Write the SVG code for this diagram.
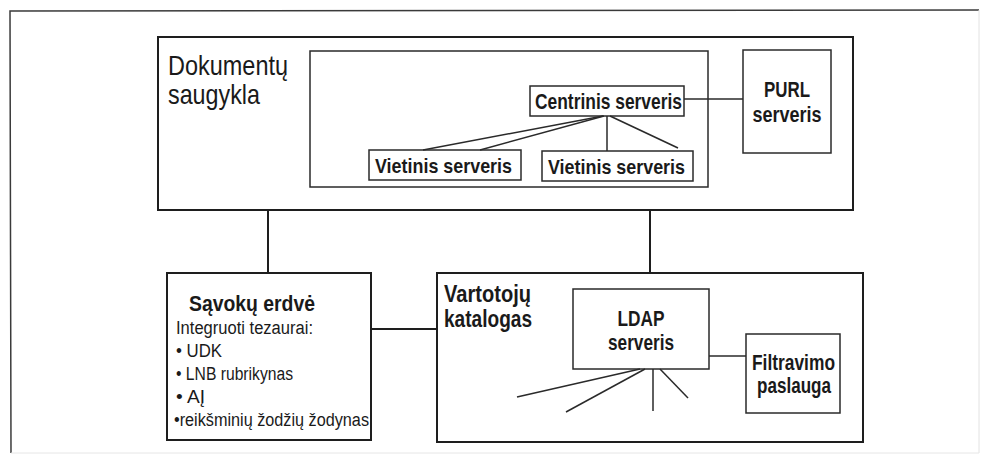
<svg xmlns="http://www.w3.org/2000/svg" width="982" height="455" viewBox="0 0 982 455">
<style>
.box{fill:none;stroke:#1e1e1e;stroke-width:2}
.thin{fill:none;stroke:#2a2a2a;stroke-width:1.5}
.conn{fill:none;stroke:#1e1e1e;stroke-width:2}
.t{font-family:"Liberation Sans",Arial,sans-serif;fill:#1a1a1a}
.b{font-weight:bold}
.big{font-size:28px}
.mid{font-size:22px}
.sm{font-size:18px}
</style>
<rect width="982" height="455" fill="#ffffff"/>
<g id="frame">
<path d="M979 10 L10 11 L11 453" fill="none" stroke="#3a3a3a" stroke-width="1.5"/>
<path d="M979 10 L979 453" fill="none" stroke="#e2e2e2" stroke-width="1"/>
<path d="M11 453 L979 453" fill="none" stroke="#e6e6e6" stroke-width="1"/>
</g>
<g id="connectors">
<line class="conn" x1="268" y1="210" x2="268" y2="273"/>
<line class="conn" x1="650" y1="210" x2="650" y2="273"/>
<line class="conn" x1="371" y1="329" x2="437" y2="329"/>
<line class="thin" x1="684" y1="99" x2="743" y2="99"/>
<line class="thin" x1="603" y1="116" x2="423" y2="150"/>
<line class="thin" x1="604" y1="116" x2="480" y2="150"/>
<line class="thin" x1="607" y1="116" x2="607" y2="151"/>
<line class="thin" x1="610" y1="116" x2="678" y2="148"/>
<line class="thin" x1="709" y1="356" x2="746" y2="356"/>
<line class="thin" x1="640" y1="369" x2="517" y2="397"/>
<line class="thin" x1="645" y1="369" x2="566" y2="412"/>
<line class="thin" x1="653" y1="369" x2="653" y2="411"/>
<line class="thin" x1="660" y1="369" x2="688" y2="398"/>
</g>
<g id="dokumentu-saugykla">
<rect class="box" x="158" y="37" width="695" height="173"/>
<text class="t big" x="168" y="75" textLength="120" lengthAdjust="spacingAndGlyphs">Dokumentų</text>
<text class="t big" x="168" y="104" textLength="92" lengthAdjust="spacingAndGlyphs">saugykla</text>
</g>
<g id="serveriu-grupe">
<rect class="thin" x="310" y="51" width="398" height="136"/>
</g>
<g id="centrinis-serveris">
<rect class="thin" x="530" y="86" width="154" height="30"/>
<text class="t b mid" x="535" y="109" textLength="147" lengthAdjust="spacingAndGlyphs">Centrinis serveris</text>
</g>
<g id="vietinis-serveris-1">
<rect class="thin" x="369" y="150" width="152" height="30"/>
<text class="t b" style="font-size:21px" x="375" y="173" textLength="137" lengthAdjust="spacingAndGlyphs">Vietinis serveris</text>
</g>
<g id="vietinis-serveris-2">
<rect class="thin" x="542" y="151" width="151" height="30"/>
<text class="t b" style="font-size:21px" x="548" y="174" textLength="137" lengthAdjust="spacingAndGlyphs">Vietinis serveris</text>
</g>
<g id="purl-serveris">
<rect class="thin" x="743" y="50" width="88" height="103"/>
<text class="t b mid" x="787" y="97" text-anchor="middle" textLength="46" lengthAdjust="spacingAndGlyphs">PURL</text>
<text class="t b mid" x="787" y="122" text-anchor="middle" textLength="69" lengthAdjust="spacingAndGlyphs">serveris</text>
</g>
<g id="savoku-erdve">
<rect class="box" x="167" y="273" width="204" height="167"/>
<text class="t b mid" x="189" y="311" textLength="126" lengthAdjust="spacingAndGlyphs">Sąvokų erdvė</text>
<text class="t sm" x="176" y="334" textLength="137" lengthAdjust="spacingAndGlyphs">Integruoti tezaurai:</text>
<text class="t sm" x="176" y="357" textLength="46" lengthAdjust="spacingAndGlyphs">• UDK</text>
<text class="t sm" x="176" y="380" textLength="117" lengthAdjust="spacingAndGlyphs">• LNB rubrikynas</text>
<text class="t sm" x="176" y="403" textLength="29" lengthAdjust="spacingAndGlyphs">• AĮ</text>
<text class="t sm" x="174" y="426" textLength="195" lengthAdjust="spacingAndGlyphs">•reikšminių žodžių žodynas</text>
</g>
<g id="vartotoju-katalogas">
<rect class="box" x="437" y="273" width="426" height="169"/>
<text class="t b" style="font-size:24px" x="444" y="302" textLength="87" lengthAdjust="spacingAndGlyphs">Vartotojų</text>
<text class="t b" style="font-size:24px" x="444" y="327" textLength="88" lengthAdjust="spacingAndGlyphs">katalogas</text>
</g>
<g id="ldap-serveris">
<rect class="thin" x="573" y="289" width="136" height="80"/>
<text class="t b mid" x="641" y="326" text-anchor="middle" textLength="47" lengthAdjust="spacingAndGlyphs">LDAP</text>
<text class="t b mid" x="641" y="350" text-anchor="middle" textLength="66" lengthAdjust="spacingAndGlyphs">serveris</text>
</g>
<g id="filtravimo-paslauga">
<rect class="thin" x="746" y="334" width="94" height="79"/>
<text class="t b mid" x="793.5" y="370" text-anchor="middle" textLength="83" lengthAdjust="spacingAndGlyphs">Filtravimo</text>
<text class="t b mid" x="794" y="393" text-anchor="middle" textLength="74" lengthAdjust="spacingAndGlyphs">paslauga</text>
</g>
</svg>
